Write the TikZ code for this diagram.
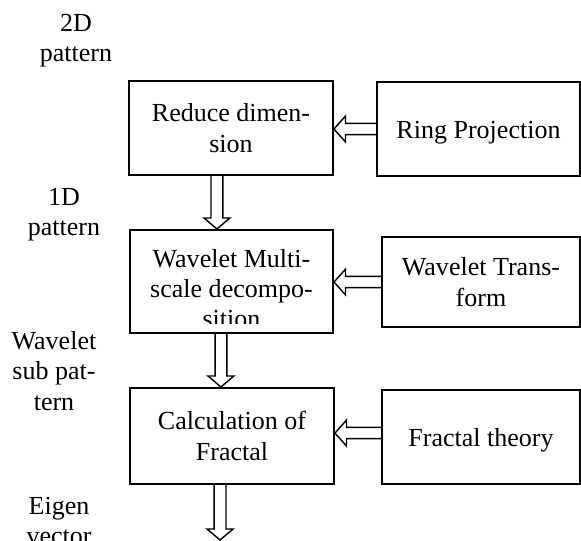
\documentclass[tikz,border=0pt]{standalone}
\usepackage{fontspec}
\setmainfont{Liberation Serif}
\usetikzlibrary{calc}

\tikzset{
  stagebox/.style={draw, line width=1.4pt, inner sep=0pt, align=center},
  lowtext/.style={text height=14pt, text depth=0pt},
  downarrow/.style={line width=1pt, line join=miter, to path={let \p1=(\tikztostart), \p2=(\tikztotarget) in
    (\x1-4.2pt,\y1) -- (\x1-4.2pt,\y2+7.8pt) -- (\x1-9.2pt,\y2+7.8pt) -- (\x1,\y2)
    -- (\x1+9.2pt,\y2+7.8pt) -- (\x1+4.2pt,\y2+7.8pt) -- (\x1+4.2pt,\y1)}},
  leftarrow/.style={line width=1pt, line join=miter, to path={let \p1=(\tikztostart), \p2=(\tikztotarget) in
    (\x1,\y1+4pt) -- (\x2+8.2pt,\y1+4pt) -- (\x2+8.2pt,\y1+9.2pt) -- (\x2,\y1)
    -- (\x2+8.2pt,\y1-9.2pt) -- (\x2+8.2pt,\y1-4pt) -- (\x1,\y1-4pt)}}
}

\begin{document}
\begin{tikzpicture}[x=0.025cm, y=-0.025cm, every node/.style={font=\fontsize{18.5}{21.5}\selectfont}]
    \clip (0,0) rectangle (581,541);

    % Main chain
    \node[stagebox, minimum width=145pt, minimum height=67pt] (reduce) at (231,128) {Reduce dimen-\\sion};
    \node[stagebox, minimum width=144.4pt, minimum height=73.3pt] (multi) at (231.5,281.5) {};
    \begin{scope}
        \clip (130,230) rectangle (333,323);
        \node[align=center] (multitext) at (231.5,288.5) {Wavelet Multi-\\scale decompo-\\sition};
    \end{scope}
    \node[stagebox, minimum width=145pt, minimum height=68.3pt] (calc) at (232,436) {Calculation of\\Fractal};

    % Side inputs
    \node[stagebox, lowtext, minimum width=144.4pt, minimum height=67pt] (ring) at (478.5,129) {Ring Projection};
    \node[stagebox, minimum width=140.8pt, minimum height=64pt] (wtrans) at (481,282) {Wavelet Trans-\\form};
    \node[stagebox, lowtext, minimum width=140.8pt, minimum height=67pt] (ftheory) at (481,437) {Fractal theory};

    % Pattern labels
    \node[align=center] (p2d) at (76,41) {2D\\pattern};
    \node[align=center] (p1d) at (64,215) {1D\\pattern};
    \node[align=center] (psub) at (54,371) {Wavelet\\sub pat-\\tern};
    \node[align=center] (peig) at (59,521) {Eigen\\vector};

    % Arrows
    \draw[downarrow] ([xshift=-10pt]reduce.south) to (multi.north);
    \draw[downarrow] ([xshift=-7.5pt]multi.south) to (calc.north);
    \coordinate (vec) at (220,540);
    \draw[downarrow] ([xshift=-8.5pt]calc.south) to (vec);
    \draw[leftarrow] (ring.west) to (reduce.east);
    \draw[leftarrow] (wtrans.west) to (multi.east);
    \draw[leftarrow] ([yshift=2.8pt]ftheory.west) to (calc.east);
\end{tikzpicture}
\end{document}
